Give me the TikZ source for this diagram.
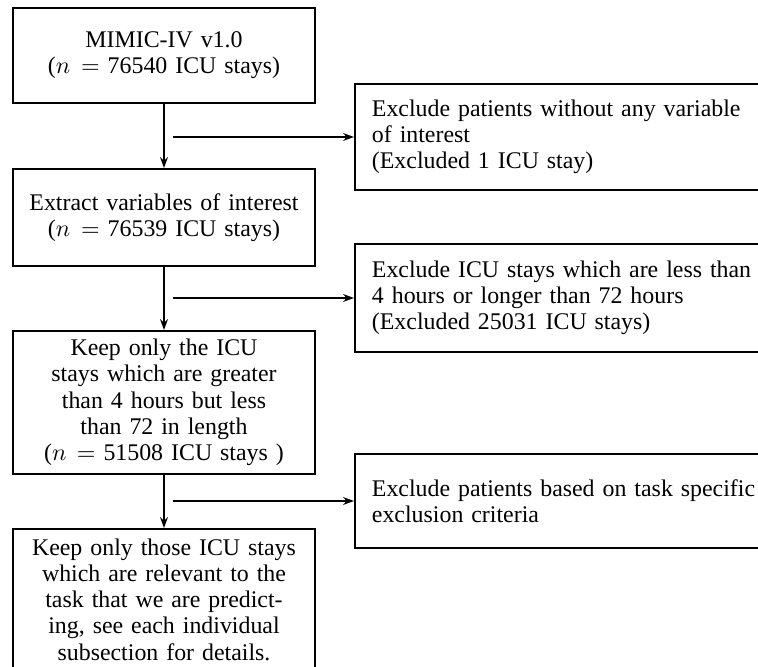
\documentclass[tikz,border=0pt]{standalone}
\usepackage{fontspec}
\setmainfont{Liberation Serif}
\usetikzlibrary{arrows.meta}
\tikzset{
  boxfont/.style={font=\fontsize{10.9}{12}\selectfont},
  mainbox/.style={draw, boxfont, line width=0.85pt, inner xsep=2pt, inner ysep=0pt, text width=133.9pt, align=center},
  sidebox/.style={draw, boxfont, line width=0.85pt, anchor=west, inner xsep=7.76pt, inner ysep=0pt, text width=185.4pt, align=left},
  flow/.style={line width=0.65pt, -{Stealth[length=5pt,width=3.6pt]}}
}
\begin{document}
\begin{tikzpicture}[x=0.4566pt,y=-0.4566pt]
\clip (0,0) rectangle (758,666);
\node[mainbox, minimum height=43.4pt] (b1) at (164,55.5) {MIMIC-IV v1.0\\($n =$ 76540 ICU stays)};
\node[mainbox, minimum height=44.3pt] (b2) at (164,217.5) {Extract variables of interest\\($n =$ 76539 ICU stays)};
\node[mainbox, minimum height=65.3pt] (b3) at (164,402.5) {Keep only the ICU\\stays which are greater\\than 4 hours but less\\than 72 in length\\($n =$ 51508 ICU stays )};
\node[mainbox, minimum height=64.4pt] (b4) at (164,599.5) {Keep only those ICU stays\\which are relevant to the\\task that we are predict-\\ing, see each individual\\subsection for details.};
\node[sidebox, minimum height=48.4pt] (r1) at (354,137) {Exclude patients without any variable\\of interest\\(Excluded 1 ICU stay)};
\node[sidebox, minimum height=49.3pt] (r2) at (354,298) {Exclude ICU stays which are less than\\4 hours or longer than 72 hours\\(Excluded 25031 ICU stays)};
\node[sidebox, minimum height=42.9pt] (r3) at (354,501) {Exclude patients based on task specific\\exclusion criteria};
\coordinate (s1) at (173,137);
\coordinate (s2) at (173,298);
\coordinate (s3) at (173,501);
\draw[flow] (b1.south) -- (b2.north);
\draw[flow] (b2.south) -- (b3.north);
\draw[flow] (b3.south) -- (b4.north);
\draw[flow] (s1) -- (r1.west);
\draw[flow] (s2) -- (r2.west);
\draw[flow] (s3) -- (r3.west);
\end{tikzpicture}
\end{document}
